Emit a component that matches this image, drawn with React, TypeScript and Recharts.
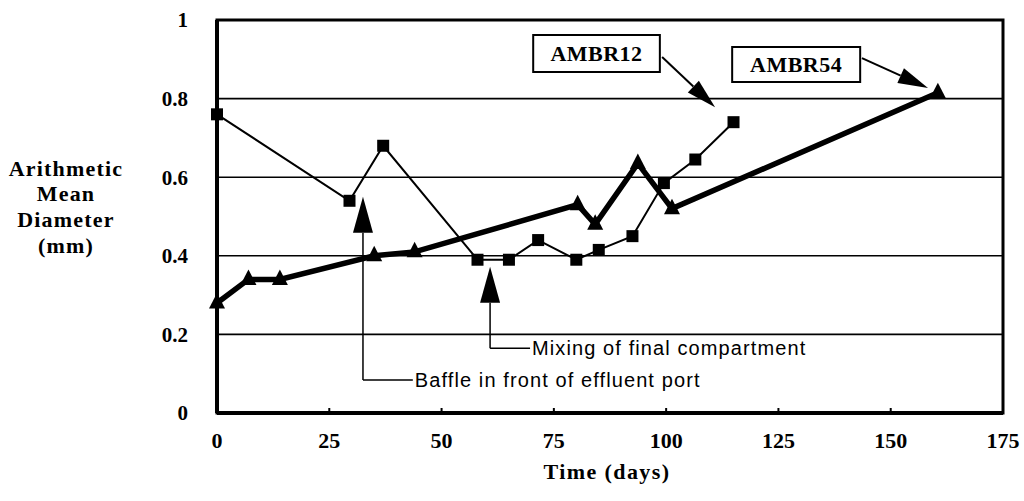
import React from 'react';
import {
  LineChart, Line, XAxis, YAxis, CartesianGrid, ReferenceArea, ReferenceLine,
} from 'recharts';

// ---- data ----
const days12 = [0, 29.5, 37, 58, 65, 71.5, 80, 85, 92.5, 99.5, 106.5, 115];
const amd12 = [0.76, 0.54, 0.68, 0.39, 0.39, 0.44, 0.39, 0.415, 0.45, 0.585, 0.645, 0.74];
const days54 = [0, 7, 14, 35, 44, 80.3, 84.2, 93.7, 101.3, 160.5];
const amd54 = [0.28, 0.34, 0.34, 0.40, 0.41, 0.53, 0.48, 0.635, 0.52, 0.815];
const xTicks = [0, 25, 50, 75, 100, 125, 150, 175];
const yTicks = [0, 0.2, 0.4, 0.6, 0.8, 1];
const yTickLabels = ['0', '0.2', '0.4', '0.6', '0.8', '1'];
const yTitleLines = ['Arithmetic', 'Mean', 'Diameter', '(mm)'];
const xTitle = 'Time (days)';
const series12Name = 'AMBR12';
const series54Name = 'AMBR54';
const baffleNote = 'Baffle in front of effluent port';
const mixingNote = 'Mixing of final compartment';

const data12 = days12.map((x, i) => ({ x, y: amd12[i] }));
const data54 = days54.map((x, i) => ({ x, y: amd54[i] }));

const SERIF = '"Liberation Serif", "Times New Roman", serif';
const SANS = '"Liberation Sans", Arial, sans-serif';

const SquareDot = (p: any) => {
  const { cx, cy, key } = p;
  if (cx == null || cy == null) return <g key={key} />;
  return <rect key={key} x={cx - 6} y={cy - 6} width={12} height={12} fill="#000" />;
};

const TriDot = (p: any) => {
  const { cx, cy, key } = p;
  if (cx == null || cy == null) return <g key={key} />;
  const pts = `${cx},${cy - 10} ${cx - 8},${cy + 5.5} ${cx + 8},${cy + 5.5}`;
  return <polygon key={key} points={pts} fill="#000" />;
};

const arrowShape = (len: number, half: number, width: number) => (p: any) => {
  const { x1, y1, x2, y2 } = p;
  if ([x1, y1, x2, y2].some((v) => v == null || isNaN(v))) return <g />;
  const dx = x2 - x1;
  const dy = y2 - y1;
  const d = Math.sqrt(dx * dx + dy * dy) || 1;
  const ux = dx / d;
  const uy = dy / d;
  const bx = x2 - ux * len;
  const by = y2 - uy * len;
  const px = -uy * half;
  const py = ux * half;
  return (
    <g>
      <line x1={x1} y1={y1} x2={bx} y2={by} stroke="#000" strokeWidth={width} />
      <polygon points={`${x2},${y2} ${bx + px},${by + py} ${bx - px},${by - py}`} fill="#000" />
    </g>
  );
};

const plainLine = (p: any) => {
  const { x1, y1, x2, y2 } = p;
  if ([x1, y1, x2, y2].some((v) => v == null || isNaN(v))) return <g />;
  return <line x1={x1} y1={y1} x2={x2} y2={y2} stroke="#000" strokeWidth={1.5} />;
};

const noteLabel = (text: string) => (props: any) => {
  const vb = props.viewBox || {};
  const x = (vb.x || 0) + (vb.width || 0) + 2;
  const y = (vb.y || 0) + (vb.height || 0) / 2;
  return (
    <text x={x} y={y} dominantBaseline="central" fontFamily={SANS} fontSize={20}
      letterSpacing={1.1} fill="#000">{text}</text>
  );
};

const boxLabel = (text: string) => (props: any) => {
  const vb = props.viewBox || {};
  const x = (vb.x || 0) + (vb.width || 0) / 2;
  const y = (vb.y || 0) + (vb.height || 0) / 2;
  return (
    <text x={x} y={y} textAnchor="middle" dominantBaseline="central" fontFamily={SERIF}
      fontSize={22} fontWeight={700} letterSpacing={0.5} fill="#000">{text}</text>
  );
};

const YTitle = (props: any) => {
  const vb = props.viewBox || {};
  const cx = (vb.x || 0) + 66;
  const top = (vb.y || 0) + 148;
  return (
    <text textAnchor="middle" fontFamily={SERIF} fontSize={22} fontWeight={700}
      letterSpacing={1.2} fill="#000">
      {yTitleLines.map((t, i) => (
        <tspan key={t} x={cx} y={top + i * 25.7} dominantBaseline="central">{t}</tspan>
      ))}
    </text>
  );
};

const XTitle = (props: any) => {
  const vb = props.viewBox || {};
  const cx = (vb.x || 0) + 390;
  const cy = (vb.y || 0) + 58;
  return (
    <text x={cx} y={cy} textAnchor="middle" dominantBaseline="central" fontFamily={SERIF}
      fontSize={22} fontWeight={700} letterSpacing={1.4} fill="#000">{xTitle}</text>
  );
};

export default function App() {
  return (
    <div style={{ position: 'absolute', left: 0, top: 0, width: 1024, height: 501, background: '#fff' }}>
      <LineChart width={1024} height={501} margin={{ top: 20, right: 21, bottom: 0, left: 0 }}>
        <CartesianGrid horizontal vertical={false} stroke="#000" strokeWidth={1.6} />
        <XAxis
          dataKey="x"
          type="number"
          domain={[0, 175]}
          ticks={xTicks}
          height={88}
          axisLine={{ stroke: '#000', strokeWidth: 4 }}
          tickLine={{ stroke: '#000', strokeWidth: 2 }}
          tickSize={-5}
          tickMargin={24}
          tick={{ fill: '#000', fontFamily: SERIF, fontSize: 22, fontWeight: 700 }}
          label={<XTitle />}
        />
        <YAxis
          dataKey="y"
          type="number"
          domain={[0, 1]}
          ticks={yTicks}
          tickFormatter={(v: number) => yTickLabels[yTicks.indexOf(v)] ?? String(v)}
          width={217}
          axisLine={{ stroke: '#000', strokeWidth: 4 }}
          tickLine={false}
          tickSize={0}
          tickMargin={29}
          tick={{ fill: '#000', fontFamily: SERIF, fontSize: 21, fontWeight: 700 }}
          label={<YTitle />}
        />
        <ReferenceArea x1={0} x2={175} y1={0} y2={1} fill="none" stroke="#000" strokeWidth={3}
          ifOverflow="visible" />

        {/* annotation: baffle */}
        <ReferenceLine segment={[{ x: 32.5, y: 0.084 }, { x: 32.5, y: 0.55 }]}
          shape={arrowShape(36, 10, 1.5)} ifOverflow="visible" />
        <ReferenceLine segment={[{ x: 32.5, y: 0.084 }, { x: 43.6, y: 0.084 }]}
          shape={plainLine} ifOverflow="visible" label={noteLabel(baffleNote)} />

        {/* annotation: mixing */}
        <ReferenceLine segment={[{ x: 60.8, y: 0.165 }, { x: 60.8, y: 0.372 }]}
          shape={arrowShape(36, 10, 1.5)} ifOverflow="visible" />
        <ReferenceLine segment={[{ x: 60.8, y: 0.165 }, { x: 69.7, y: 0.165 }]}
          shape={plainLine} ifOverflow="visible" label={noteLabel(mixingNote)} />

        {/* series name callouts */}
        <ReferenceLine segment={[{ x: 99.1, y: 0.906 }, { x: 110.9, y: 0.778 }]}
          shape={arrowShape(30, 8, 2)} ifOverflow="visible" />
        <ReferenceLine segment={[{ x: 143.6, y: 0.903 }, { x: 158.3, y: 0.827 }]}
          shape={arrowShape(30, 8, 2)} ifOverflow="visible" />
        <ReferenceArea x1={70.4} x2={98.6} y1={0.868} y2={0.962} fill="#fff" fillOpacity={1}
          stroke="#000" strokeWidth={2} ifOverflow="visible" label={boxLabel(series12Name)} />
        <ReferenceArea x1={114.7} x2={143.2} y1={0.842} y2={0.931} fill="#fff" fillOpacity={1}
          stroke="#000" strokeWidth={2} ifOverflow="visible" label={boxLabel(series54Name)} />

        <Line data={data54} dataKey="y" name={series54Name} stroke="#000" strokeWidth={5.5}
          dot={TriDot} activeDot={false} isAnimationActive={false} />
        <Line data={data12} dataKey="y" name={series12Name} stroke="#000" strokeWidth={2}
          dot={SquareDot} activeDot={false} isAnimationActive={false} />
      </LineChart>
    </div>
  );
}
